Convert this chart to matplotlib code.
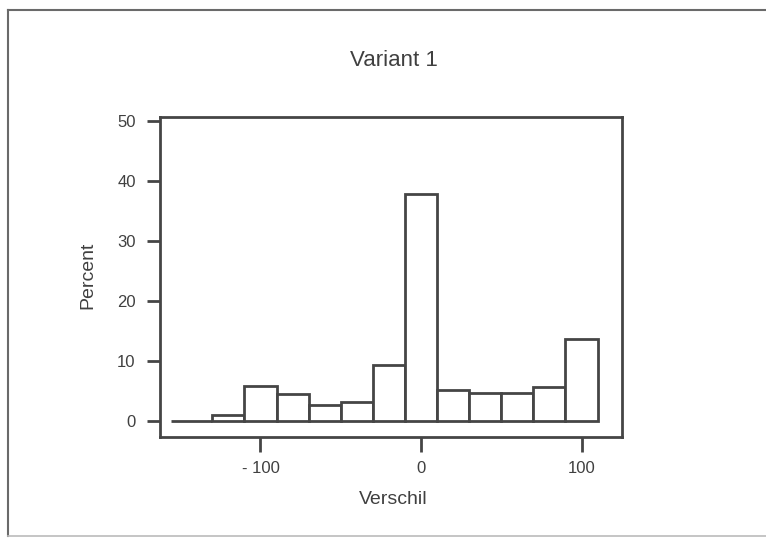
import numpy as np
import matplotlib
matplotlib.use("Agg")
import matplotlib.pyplot as plt
from matplotlib.lines import Line2D

plt.rcParams['font.family'] = ['Liberation Sans', 'DejaVu Sans']

# histogram of differences (percent per bin)
bin_edges = [-156, -130, -110, -90, -70, -50, -30, -10, 10, 30, 50, 70, 90, 110]
percent = [0, 1.0, 5.8, 4.4, 2.7, 3.1, 9.3, 37.8, 5.2, 4.6, 4.6, 5.6, 13.6]
x_ticks = [-100, 0, 100]
x_ticklabels = ['- 100', '0', '100']
y_ticks = [0, 10, 20, 30, 40, 50]

ink = '#454545'
W, H = 766, 538

fig = plt.figure(figsize=(W / 100, H / 100), dpi=100)
fig.patch.set_facecolor('white')

ax = fig.add_axes([160 / W, 1 - 437 / H, 462 / W, 320 / H])

edges = np.array(bin_edges)
ax.bar(edges[:-1], percent, width=np.diff(edges), align='edge',
       facecolor='white', edgecolor=ink, linewidth=2.0)

ax.set_xlim(-162.6, 125.2)
ax.set_ylim(-2.7, 50.7)

for s in ax.spines.values():
    s.set_color(ink)
    s.set_linewidth(2.0)

ax.set_xticks(x_ticks)
ax.set_xticklabels(x_ticklabels)
ax.set_yticks(y_ticks)
ax.tick_params(axis='y', direction='out', length=9.5, width=2.0, color=ink,
               pad=8, labelsize=12, labelcolor='#404040')
ax.tick_params(axis='x', direction='out', length=10.5, width=2.0, color=ink,
               pad=7, labelsize=12, labelcolor='#404040')

fig.text(394 / W, 1 - 61 / H, 'Variant 1', ha='center', va='center',
         fontsize=16, color='#404040')
fig.text(88 / W, 1 - 275 / H, 'Percent', ha='center', va='center',
         rotation=90, fontsize=14, color='#404040')
fig.text(393 / W, 1 - 499 / H, 'Verschil', ha='center', va='center',
         fontsize=14, color='#404040')

# page frame: left, top and bottom edges
frame = '#6a6a6a'
fig.add_artist(Line2D([8 / W, 8 / W], [1 - 10 / H, 1 - 536 / H],
                      color=frame, lw=1.5, transform=fig.transFigure))
fig.add_artist(Line2D([8 / W, 1.0], [1 - 10 / H, 1 - 10 / H],
                      color=frame, lw=1.5, transform=fig.transFigure))
fig.add_artist(Line2D([8 / W, 1.0], [1 - 536 / H, 1 - 536 / H],
                      color='#bbbbbb', lw=1.2, transform=fig.transFigure))

fig.savefig('out.png', dpi=100)
